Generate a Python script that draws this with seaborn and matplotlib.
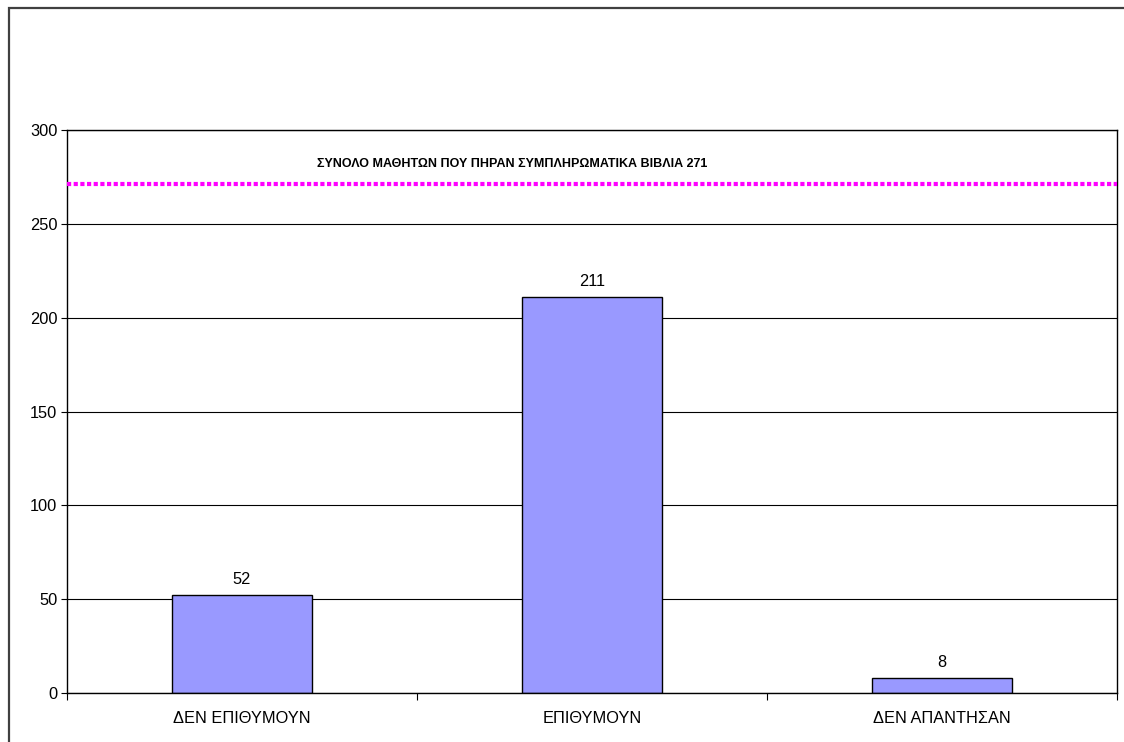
import matplotlib
matplotlib.use("Agg")
import matplotlib.pyplot as plt
import seaborn as sns
import pandas as pd
from matplotlib.patches import Rectangle
from matplotlib.ticker import FixedLocator

categories = ["ΔΕΝ ΕΠΙΘΥΜΟΥΝ", "ΕΠΙΘΥΜΟΥΝ", "ΔΕΝ ΑΠΑΝΤΗΣΑΝ"]
values = [52, 211, 8]
total_value = 271
total_label = "ΣΥΝΟΛΟ ΜΑΘΗΤΩΝ ΠΟΥ ΠΗΡΑΝ ΣΥΜΠΛΗΡΩΜΑΤΙΚΑ ΒΙΒΛΙΑ 271"
y_ticks = [0, 50, 100, 150, 200, 250, 300]

sns.set_theme(style="white")
plt.rcParams['font.family'] = ['Liberation Sans', 'DejaVu Sans']
plt.rcParams['text.color'] = 'black'
plt.rcParams['xtick.color'] = 'black'
plt.rcParams['ytick.color'] = 'black'
plt.rcParams['axes.labelcolor'] = 'black'

df = pd.DataFrame({"cat": categories, "val": values})

fig = plt.figure(figsize=(11.24, 7.42), dpi=100)
ax = fig.add_axes([67/1124, 1-693/742, (1117-67)/1124, (693-130)/742])

sns.barplot(data=df, x="cat", y="val", ax=ax, color="#9999FF", width=0.4,
            edgecolor="black", linewidth=1.0, saturation=1)

ax.set_xlim(-0.5, 2.5)
ax.set_ylim(0, 300)
ax.set_yticks(y_ticks)
ax.yaxis.grid(True, color="black", linewidth=0.8)
ax.set_axisbelow(True)
for s in ax.spines.values():
    s.set_visible(True)
    s.set_color("black")
    s.set_linewidth(1.0)

ax.set_xlabel("")
ax.set_ylabel("")
ax.tick_params(axis="y", which="major", left=True, length=4, width=0.8,
               color="black", labelcolor="black", labelsize=11.8, pad=3)
ax.tick_params(axis="x", which="major", bottom=False, labelcolor="black",
               labelsize=11.8, pad=7)
ax.xaxis.set_minor_locator(FixedLocator([-0.5, 0.5, 1.5, 2.5]))
ax.tick_params(axis="x", which="minor", bottom=True, length=5, width=0.8, color="black")

for c in ax.containers:
    ax.bar_label(c, labels=[str(v) for v in values], padding=6, fontsize=11.8,
                 color="black")

ax.axhline(total_value, color="#FF00FF", linewidth=3, linestyle=(0, (1, 0.6)), zorder=3)
ax.text(0.214, 282, total_label, fontsize=9, fontweight="bold", ha="left",
        va="center", color="black")

fig.patches.append(Rectangle((9/1124, -0.05), 1.1, 1.05 - 8/742,
                             transform=fig.transFigure, fill=False,
                             edgecolor="#404040", linewidth=1.6))

fig.savefig("out.png", dpi=100)
